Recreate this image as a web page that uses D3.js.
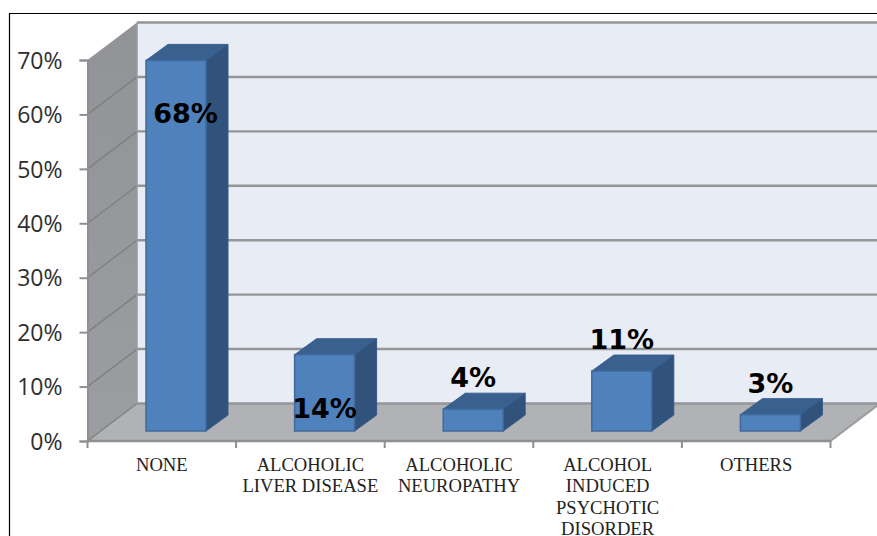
<!DOCTYPE html>
<html>
<head>
<meta charset="utf-8">
<script src="https://cdnjs.cloudflare.com/ajax/libs/d3/7.8.5/d3.min.js"></script>
<style>
  html, body { margin: 0; padding: 0; background: #fff; }
  svg { display: block; }
</style>
</head>
<body>
<svg id="chart" width="877" height="536"></svg>
<script>
// Complication types and their share of patients
const categories = ["NONE", "ALCOHOLIC LIVER DISEASE", "ALCOHOLIC NEUROPATHY", "ALCOHOL INDUCED PSYCHOTIC DISORDER", "OTHERS"];
const categoryLines = [["NONE"], ["ALCOHOLIC", "LIVER DISEASE"], ["ALCOHOLIC", "NEUROPATHY"], ["ALCOHOL", "INDUCED", "PSYCHOTIC", "DISORDER"], ["OTHERS"]];
const shares = [68, 14, 4, 11, 3];
const yTicks = [0, 10, 20, 30, 40, 50, 60, 70];

const svg = d3.select("#chart");

// Front plane of the axes box and the oblique offset to its back plane
const frontLeft = 87.5, frontRight = 830.5, frontBase = 441, frontTop = 60;
const depthX = 49.5, depthY = -37.5;

const y = d3.scaleLinear().domain([0, 70]).range([frontBase, frontTop]);
const x = d3.scaleBand().domain(categories).range([frontLeft, frontRight]);

// Bars stand part way into the box, so they use a slightly shorter value scale
const barBase = 431, barDepthX = 22, barDepthY = -16;
const barHeight = d3.scaleLinear().domain([0, 70]).range([0, 381.5]);
const barWidth = 60, barInset = 58.5;

const poly = pts => d3.line()(pts) + "Z";

const defs = svg.append("defs");
const sideGrad = defs.append("linearGradient").attr("id", "sideWall")
  .attr("x1", 0).attr("y1", 0).attr("x2", 0).attr("y2", 1);
sideGrad.append("stop").attr("offset", 0).attr("stop-color", "#929396");
sideGrad.append("stop").attr("offset", 1).attr("stop-color", "#9c9da0");

// Back wall, running out past the right edge of the frame
svg.append("rect")
  .attr("x", frontLeft + depthX).attr("y", y(70) + depthY)
  .attr("width", 877 - frontLeft - depthX).attr("height", y(0) - y(70))
  .attr("fill", "#e8ecf5");

// Left wall
svg.append("path")
  .attr("d", poly([[frontLeft, y(70)], [frontLeft + depthX, y(70) + depthY], [frontLeft + depthX, y(0) + depthY], [frontLeft, y(0)]]))
  .attr("fill", "url(#sideWall)");

// Floor
svg.append("path")
  .attr("d", poly([[frontLeft, y(0)], [frontLeft + depthX, y(0) + depthY], [frontRight + depthX, y(0) + depthY], [frontRight, y(0)]]))
  .attr("fill", "#b0b2b5");

// Gridlines: a thin diagonal on the left wall, a heavier run across the back wall
const grid = svg.append("g").attr("fill", "none");
grid.selectAll("line.back").data(yTicks).join("line").attr("class", "back")
  .attr("x1", frontLeft + depthX).attr("x2", 877)
  .attr("y1", d => y(d) + depthY).attr("y2", d => y(d) + depthY)
  .attr("stroke", "#949597").attr("stroke-width", 2.4);
grid.selectAll("line.side").data(yTicks.slice(0, -1)).join("line").attr("class", "side")
  .attr("x1", frontLeft).attr("y1", d => y(d))
  .attr("x2", frontLeft + depthX).attr("y2", d => y(d) + depthY)
  .attr("stroke", "#7f8082").attr("stroke-width", 1.4);
svg.append("line")
  .attr("x1", frontLeft + depthX).attr("x2", frontLeft + depthX)
  .attr("y1", y(70) + depthY).attr("y2", y(0) + depthY)
  .attr("stroke", "#9a9b9d").attr("stroke-width", 1.5);
svg.append("line")
  .attr("x1", frontRight).attr("y1", y(0))
  .attr("x2", frontRight + depthX).attr("y2", y(0) + depthY)
  .attr("stroke", "#9a9b9d").attr("stroke-width", 2);

// Value axis
const yAxis = svg.append("g")
  .attr("transform", `translate(${frontLeft},0)`)
  .call(d3.axisLeft(y).tickValues(yTicks).tickSize(8).tickPadding(17).tickFormat(d => d + "%"));
yAxis.select(".domain").attr("stroke", "#8e8f91").attr("stroke-width", 2);
yAxis.selectAll(".tick line").attr("stroke", "#8e8f91").attr("stroke-width", 2);
yAxis.selectAll("text")
  .attr("font-family", "'Open Sans', sans-serif").attr("font-size", 23)
  .attr("fill", "#2e2e2e").attr("dy", "0.36em");

// Category axis: ticks on the band boundaries
const tickPositions = [...categories.map(c => x(c)), frontRight];
svg.append("line")
  .attr("x1", frontLeft).attr("x2", frontRight).attr("y1", y(0)).attr("y2", y(0))
  .attr("stroke", "#8e8f91").attr("stroke-width", 2.4);
svg.append("g").selectAll("line").data(tickPositions).join("line")
  .attr("x1", d => d).attr("x2", d => d).attr("y1", y(0)).attr("y2", y(0) + 7)
  .attr("stroke", "#8e8f91").attr("stroke-width", 2);

const catLabels = svg.append("g")
  .attr("font-family", "'Liberation Serif', serif").attr("font-size", 18.6)
  .attr("fill", "#222").attr("text-anchor", "middle");
catLabels.selectAll("text").data(categories).join("text")
  .attr("transform", d => `translate(${x(d) + x.bandwidth() / 2},471)`)
  .selectAll("tspan").data((d, i) => categoryLines[i]).join("tspan")
  .attr("x", 0).attr("y", (d, i) => i * 21.4)
  .text(d => d);

// Oblique boxes: top and side faces first, then the front face
const bars = svg.append("g").selectAll("g").data(shares).join("g");
const barLeft = (d, i) => x(categories[i]) + barInset;
const barTop = d => barBase - barHeight(d);

bars.append("path")
  .attr("d", (d, i) => {
    const l = barLeft(d, i), t = barTop(d);
    return poly([[l, t], [l + barDepthX, t + barDepthY], [l + barWidth + barDepthX, t + barDepthY], [l + barWidth, t]]);
  })
  .attr("fill", "#3a6090").attr("stroke", "#37608f").attr("stroke-width", 1);
bars.append("path")
  .attr("d", (d, i) => {
    const r = barLeft(d, i) + barWidth, t = barTop(d);
    return poly([[r, t], [r + barDepthX, t + barDepthY], [r + barDepthX, barBase + barDepthY], [r, barBase]]);
  })
  .attr("fill", "#31537b").attr("stroke", "#34598a").attr("stroke-width", 1);
bars.append("rect")
  .attr("x", barLeft).attr("y", barTop)
  .attr("width", barWidth).attr("height", d => barHeight(d))
  .attr("fill", "#4f81bd").attr("stroke", "#41699c").attr("stroke-width", 1.5);

// Value labels: inside the tall bars, above the short ones
svg.append("g")
  .attr("font-family", "'DejaVu Sans', sans-serif").attr("font-weight", "bold")
  .attr("font-size", 27).attr("fill", "#000").attr("text-anchor", "middle")
  .selectAll("text").data(shares).join("text")
  .attr("x", (d, i) => barLeft(d, i) + barWidth / 2 + (d > 14 ? 9.5 : 0))
  .attr("y", d => barTop(d) + (d > 11 ? 63 : -22))
  .text(d => d + "%");

// Frame around the chart, open to the right and bottom
svg.append("path")
  .attr("d", "M9.5,536V13.5H877")
  .attr("fill", "none").attr("stroke", "#000").attr("stroke-width", 1.2);
</script>
</body>
</html>
